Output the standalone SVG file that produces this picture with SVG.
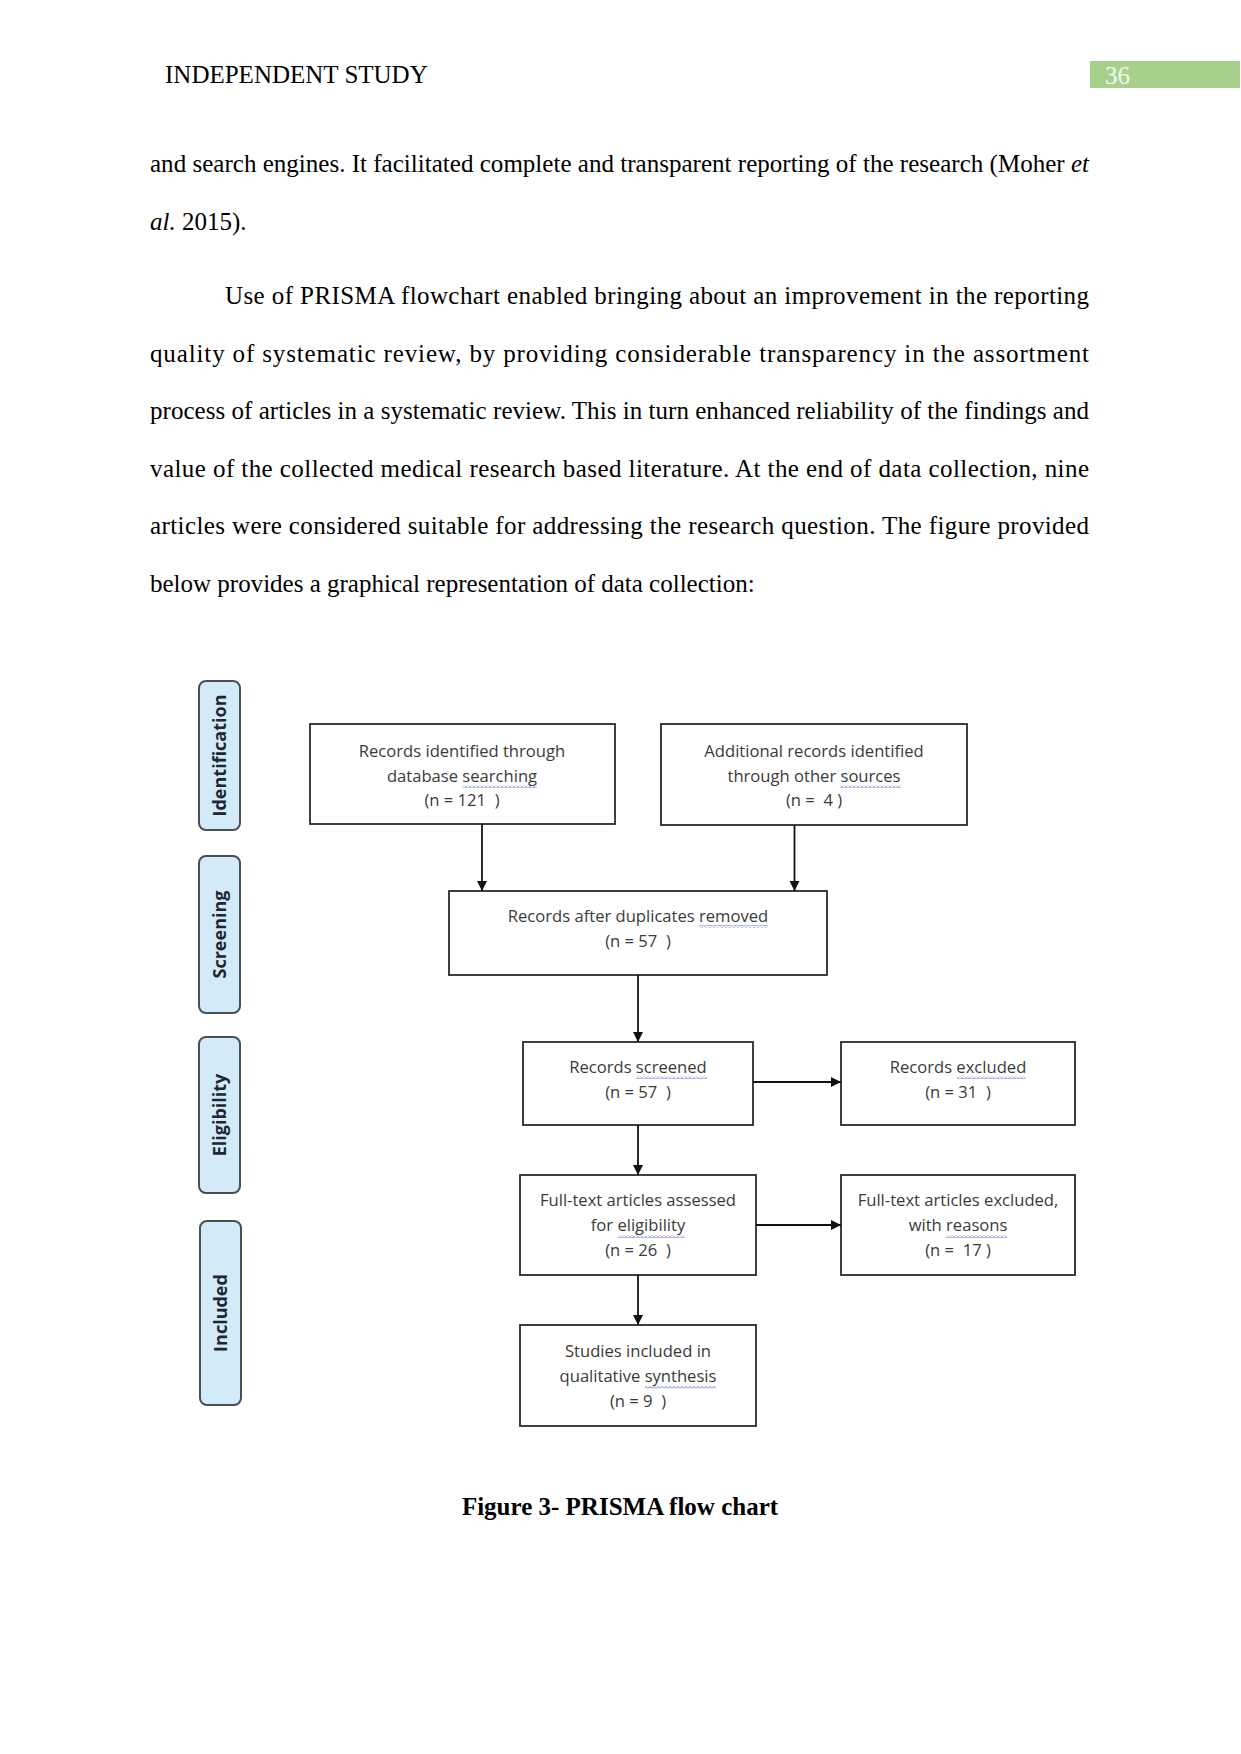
<svg xmlns="http://www.w3.org/2000/svg" width="1241" height="1754" viewBox="0 0 1241 1754">
<defs>
<marker id="ah" viewBox="0 0 10 10" refX="10" refY="5" markerWidth="10" markerHeight="10" markerUnits="userSpaceOnUse" orient="auto">
<path d="M0,0 L10,5 L0,10 z" fill="#111"/>
</marker>
<pattern id="wv" width="4" height="3" patternUnits="userSpaceOnUse">
<path d="M0,2.5 L2,0.5 L4,2.5" fill="none" stroke="#5468d4" stroke-width="0.9"/>
</pattern>
</defs>
<style>
.body{font-family:"Liberation Serif","Times New Roman",serif;font-size:25px;fill:#000}
.box{fill:#fff;stroke:#2b2b2b;stroke-width:1.8}
.lab{fill:#d3eaf9;stroke:#4a4f55;stroke-width:2}
.bt{font-family:"Open Sans","Liberation Sans",sans-serif;font-size:16.6px;fill:#3a3a3a;text-anchor:middle;white-space:pre}
.lt{font-family:"Open Sans","Liberation Sans",sans-serif;font-size:18px;font-weight:bold;fill:#1d2733;text-anchor:middle}
.sq{fill:url(#wv)}
.con line{stroke:#111;stroke-width:1.8}
</style>
<rect width="1241" height="1754" fill="#fff"/>
<text class="body" x="165" y="83">INDEPENDENT STUDY</text>
<rect x="1090" y="61" width="150" height="27" fill="#a8d08d"/>
<text class="body" x="1105" y="84" style="fill:#f4f9ef">36</text>

<text class="body" x="150" y="172" textLength="939" lengthAdjust="spacing">and search engines. It facilitated complete and transparent reporting of the research (Moher <tspan font-style="italic">et</tspan></text>
<text class="body" x="150" y="229.5"><tspan font-style="italic">al.</tspan> 2015).</text>
<text class="body" x="225" y="304" textLength="864" lengthAdjust="spacing">Use of PRISMA flowchart enabled bringing about an improvement in the reporting</text>
<text class="body" x="150" y="361.5" textLength="939" lengthAdjust="spacing">quality of systematic review, by providing considerable transparency in the assortment</text>
<text class="body" x="150" y="419" textLength="939" lengthAdjust="spacing">process of articles in a systematic review. This in turn enhanced reliability of the findings and</text>
<text class="body" x="150" y="476.5" textLength="939" lengthAdjust="spacing">value of the collected medical research based literature. At the end of data collection, nine</text>
<text class="body" x="150" y="534" textLength="939" lengthAdjust="spacing">articles were considered suitable for addressing the research question. The figure provided</text>
<text class="body" x="150" y="591.5">below provides a graphical representation of data collection:</text>

<g id="lab-identification">
<rect class="lab" x="199" y="681" width="41" height="149" rx="7"/>
<text class="lt" transform="translate(225.5,755.5) rotate(-90)">Identification</text>
</g>
<g id="lab-screening">
<rect class="lab" x="199" y="856" width="41" height="157" rx="7"/>
<text class="lt" transform="translate(225.5,934.5) rotate(-90)">Screening</text>
</g>
<g id="lab-eligibility">
<rect class="lab" x="199" y="1037" width="41" height="156" rx="7"/>
<text class="lt" transform="translate(225.5,1115) rotate(-90)">Eligibility</text>
</g>
<g id="lab-included">
<rect class="lab" x="200" y="1221" width="41" height="184" rx="7"/>
<text class="lt" transform="translate(226.5,1313) rotate(-90)">Included</text>
</g>

<g id="n1">
<rect class="box" x="310" y="724" width="305" height="100"/>
<text class="bt" x="462" y="757">Records identified through</text>
<text class="bt" x="462" y="781.5">database searching</text>
<text class="bt" x="462" y="806">(n = 121  )</text>
<rect class="sq" x="463" y="785" width="74" height="3"/>
</g>
<g id="n2">
<rect class="box" x="661" y="724" width="306" height="101"/>
<text class="bt" x="814" y="757">Additional records identified</text>
<text class="bt" x="814" y="781.5">through other sources</text>
<text class="bt" x="814" y="806">(n =  4 )</text>
<rect class="sq" x="840" y="785" width="61" height="3"/>
</g>
<g id="n3">
<rect class="box" x="449" y="891" width="378" height="84"/>
<text class="bt" x="638" y="922">Records after duplicates removed</text>
<text class="bt" x="638" y="947">(n = 57  )</text>
<rect class="sq" x="699" y="925" width="69" height="3"/>
</g>
<g id="n4">
<rect class="box" x="523" y="1042" width="230" height="83"/>
<text class="bt" x="638" y="1073">Records screened</text>
<text class="bt" x="638" y="1098">(n = 57  )</text>
<rect class="sq" x="636" y="1076" width="71" height="3"/>
</g>
<g id="n5">
<rect class="box" x="841" y="1042" width="234" height="83"/>
<text class="bt" x="958" y="1073">Records excluded</text>
<text class="bt" x="958" y="1098">(n = 31  )</text>
<rect class="sq" x="957" y="1076" width="69" height="3"/>
</g>
<g id="n6">
<rect class="box" x="520" y="1175" width="236" height="100"/>
<text class="bt" x="638" y="1206">Full-text articles assessed</text>
<text class="bt" x="638" y="1231">for eligibility</text>
<text class="bt" x="638" y="1256">(n = 26  )</text>
<rect class="sq" x="618" y="1235" width="67" height="3"/>
</g>
<g id="n7">
<rect class="box" x="841" y="1175" width="234" height="100"/>
<text class="bt" x="958" y="1206">Full-text articles excluded,</text>
<text class="bt" x="958" y="1231">with reasons</text>
<text class="bt" x="958" y="1256">(n =  17 )</text>
<rect class="sq" x="946" y="1235" width="61" height="3"/>
</g>
<g id="n8">
<rect class="box" x="520" y="1325" width="236" height="101"/>
<text class="bt" x="638" y="1357">Studies included in</text>
<text class="bt" x="638" y="1382">qualitative synthesis</text>
<text class="bt" x="638" y="1407">(n = 9  )</text>
<rect class="sq" x="645" y="1386" width="71" height="3"/>
</g>

<g id="connectors" class="con">
<line x1="482" y1="824" x2="482" y2="891" marker-end="url(#ah)"/>
<line x1="794.5" y1="825" x2="794.5" y2="891" marker-end="url(#ah)"/>
<line x1="638" y1="975" x2="638" y2="1042" marker-end="url(#ah)"/>
<line x1="753" y1="1082" x2="841" y2="1082" marker-end="url(#ah)"/>
<line x1="638" y1="1125" x2="638" y2="1175" marker-end="url(#ah)"/>
<line x1="756" y1="1225" x2="841" y2="1225" marker-end="url(#ah)"/>
<line x1="638" y1="1275" x2="638" y2="1325" marker-end="url(#ah)"/>
</g>

<text class="body" x="620" y="1515" text-anchor="middle" font-weight="bold">Figure 3- PRISMA flow chart</text>
</svg>
